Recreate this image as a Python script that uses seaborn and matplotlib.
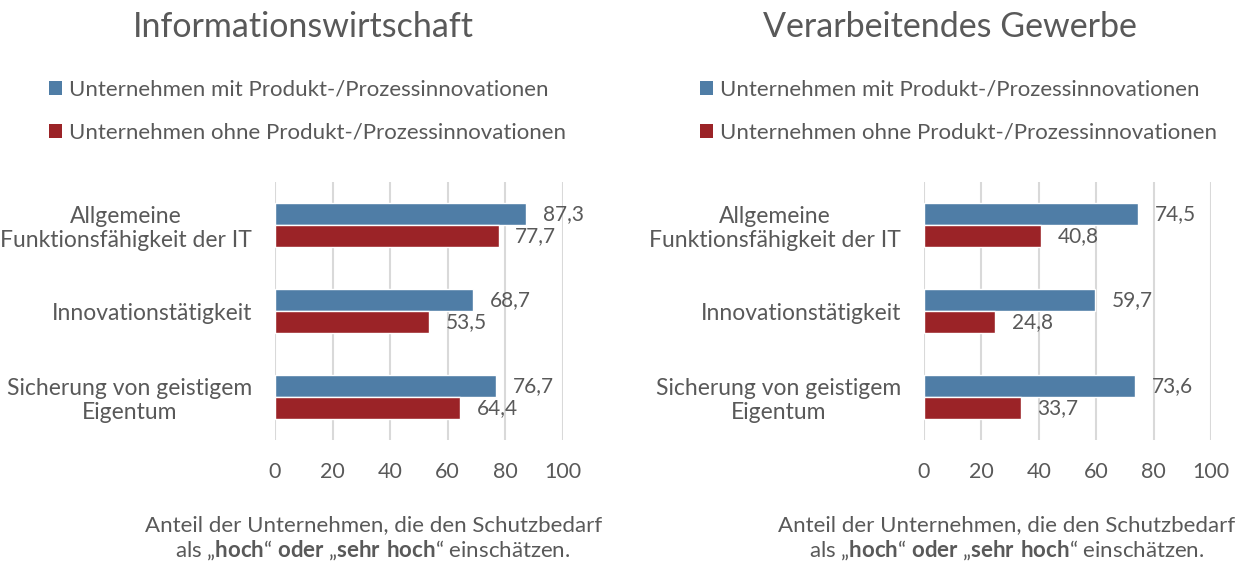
import pandas as pd
import numpy as np
import seaborn as sns
import matplotlib.pyplot as plt
from matplotlib.patches import Patch

# Daten
kategorien = ["Allgemeine\nFunktionsfähigkeit der IT", "Innovationstätigkeit", "Sicherung von geistigem\nEigentum"]
gruppen = ["Unternehmen mit Produkt-/Prozessinnovationen", "Unternehmen ohne Produkt-/Prozessinnovationen"]
titel = ["Informationswirtschaft", "Verarbeitendes Gewerbe"]
iw_mit = [87.3, 68.7, 76.7]
iw_ohne = [77.7, 53.5, 64.4]
vg_mit = [74.5, 59.7, 73.6]
vg_ohne = [40.8, 24.8, 33.7]
xticks = [0, 20, 40, 60, 80, 100]

farben = ["#4F7DA6", "#9B2327"]
grau = "#595959"

sns.set_theme(style="white")
plt.rcParams['font.family'] = ['Lato', 'DejaVu Sans']
plt.rcParams['mathtext.fontset'] = 'custom'
plt.rcParams['mathtext.rm'] = 'Lato'
plt.rcParams['mathtext.bf'] = 'Lato:bold'

def make_df(mit, ohne):
    return pd.DataFrame({
        "Kategorie": kategorien * 2,
        "Gruppe": [gruppen[0]] * 3 + [gruppen[1]] * 3,
        "Wert": mit + ohne,
    })

fig = plt.figure(figsize=(12.52, 5.66), dpi=100)
axes = [fig.add_axes([0.2196, 0.2226, 0.2300, 0.4558]),
        fig.add_axes([0.7380, 0.2226, 0.2292, 0.4558])]
daten = [(iw_mit, iw_ohne), (vg_mit, vg_ohne)]
titel_x = [0.242, 0.759]
legende_x = [0.039, 0.559]
label_x = [0.298, 0.804]

for ax, (mit, ohne), t, tx, lx, xl in zip(axes, daten, titel, titel_x, legende_x, label_x):
    df = make_df(mit, ohne)
    sns.barplot(data=df, y="Kategorie", x="Wert", hue="Gruppe", palette=farben,
                orient="h", width=0.51, ax=ax, legend=False, saturation=1)
    for cont, werte in zip(ax.containers, [mit, ohne]):
        ax.bar_label(cont, labels=[f"{v:.1f}".replace(".", ",") for v in werte],
                     padding=12, fontsize=15, color=grau)
    ax.set_xlim(0, 100)
    ax.set_ylim(2.5, -0.5)
    ax.set_xticks(xticks)
    ax.set_xlabel("")
    ax.set_ylabel("")
    ax.grid(axis="x", color="#D9D9D9", linewidth=1.5)
    ax.set_axisbelow(True)
    sns.despine(ax=ax, left=True, bottom=True)
    ax.tick_params(axis="x", length=0, pad=16, labelsize=15.5, labelcolor=grau)
    ax.tick_params(axis="y", length=0, pad=16.5, labelsize=16.5, labelcolor=grau)
    for lab in ax.get_yticklabels():
        lab.set_multialignment("center")

    fig.text(tx, 0.952, t, ha="center", va="center", fontsize=24.5, color=grau)
    handles = [Patch(facecolor=c, edgecolor="none") for c in farben]
    fig.legend(handles, gruppen, loc="upper left", bbox_to_anchor=(lx, 0.859),
               frameon=False, fontsize=16, labelcolor=grau, labelspacing=1.02,
               handlelength=0.6, handleheight=0.6, handletextpad=0.3, borderaxespad=0,
               borderpad=0)
    fig.text(xl, 0.049, "Anteil der Unternehmen, die den Schutzbedarf\n"
             r"als „$\mathbf{hoch}$“ $\mathbf{oder}$ „$\mathbf{sehr\ hoch}$“ einschätzen.",
             ha="center", va="center", fontsize=16, color=grau, linespacing=1.15)

fig.savefig("out.png", dpi=100)
